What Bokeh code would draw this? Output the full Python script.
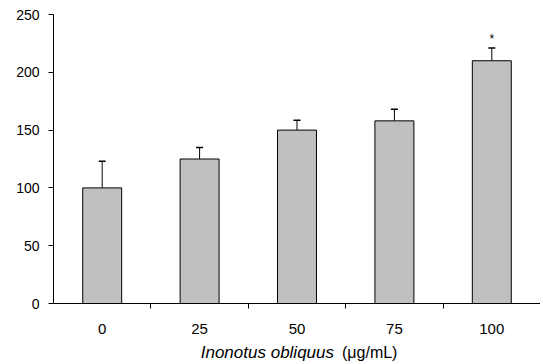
from bokeh.plotting import figure
from bokeh.models import (Range1d, FixedTicker, Whisker, TeeHead, ColumnDataSource)
from bokeh.layouts import column
from bokeh.core.properties import value
from bokeh.embed import file_html
from bokeh.resources import INLINE

# Data
categories = ["0", "25", "50", "75", "100"]
means = [100, 125, 150, 158, 210]
errors = [23, 10, 8.5, 10, 11]
significant = ["", "", "", "", "*"]
y_ticks = [0, 50, 100, 150, 200, 250]
title_italic = "Inonotus obliquus"
title_unit = "(μg/mL)"

FONT = "Liberation Sans"

xpos = [i + 0.5 for i in range(len(categories))]
upper = [m + e for m, e in zip(means, errors)]
src = ColumnDataSource(dict(x=xpos, top=means, upper=upper, star=significant,
                            star_y=[u + 8 for u in upper]))

xr = Range1d(0, len(categories))
p = figure(width=540, height=344, output_backend="svg", toolbar_location=None,
           title=None, x_range=xr, y_range=Range1d(0, 250),
           min_border_left=53, min_border_right=0, min_border_top=14, min_border_bottom=41)
p.outline_line_color = None
p.xgrid.visible = False
p.ygrid.visible = False
p.background_fill_color = "white"
p.border_fill_color = "white"

p.vbar(x="x", top="top", bottom=0, width=0.4, source=src,
       fill_color="#c0c0c0", line_color="black", line_width=1)

w = Whisker(base="x", lower="top", upper="upper", source=src, dimension="height",
            line_color="black", line_width=1,
            upper_head=TeeHead(size=7, line_color="black", line_width=1.5),
            lower_head=None)
p.add_layout(w)

p.text(x="x", y="star_y", text="star", source=src, text_align="center",
       text_baseline="alphabetic", text_font=value(FONT), text_font_size="12px",
       text_color="black")

# x axis: labels at category centers, ticks at boundaries
xa = p.xaxis[0]
xa.ticker = FixedTicker(ticks=xpos, minor_ticks=[1, 2, 3, 4, 5])
xa.major_label_overrides = {x: c for x, c in zip(xpos, categories)}
xa.major_tick_out = 0
xa.major_tick_in = 0
xa.minor_tick_out = 5
xa.minor_tick_in = 0
xa.minor_tick_line_color = "black"
xa.axis_line_color = "black"
xa.major_label_text_font = FONT
xa.major_label_text_font_size = "15px"
xa.major_label_text_color = "black"
xa.major_label_standoff = 15

ya = p.yaxis[0]
ya.ticker = FixedTicker(ticks=y_ticks)
ya.minor_tick_line_color = None
ya.major_tick_out = 5
ya.major_tick_in = 0
ya.major_tick_line_color = "black"
ya.axis_line_color = "black"
ya.major_label_text_font = FONT
ya.major_label_text_font_size = "14px"
ya.major_label_text_color = "black"
ya.major_label_standoff = 9

# axis title strip (mixed italic / upright text)
t = figure(width=540, height=20, output_backend="svg", toolbar_location=None,
           title=None, x_range=xr, y_range=Range1d(-12, 8),
           min_border_left=53, min_border_right=0, min_border_top=0, min_border_bottom=0)
t.axis.visible = False
t.grid.visible = False
t.outline_line_color = None
t.background_fill_color = "white"
t.border_fill_color = "white"
mid = len(categories) / 2
t.text(x=[mid], y=[0], text=[title_italic], x_offset=37, text_align="right",
       text_baseline="alphabetic", text_font=value(FONT), text_font_size="17px",
       text_font_style="italic", text_color="black")
t.text(x=[mid], y=[0], text=[title_unit], x_offset=45, text_align="left",
       text_baseline="alphabetic", text_font=value(FONT), text_font_size="16px",
       text_color="black")

layout = column(p, t, spacing=0)
open("out.html", "w").write(file_html(layout, INLINE))
